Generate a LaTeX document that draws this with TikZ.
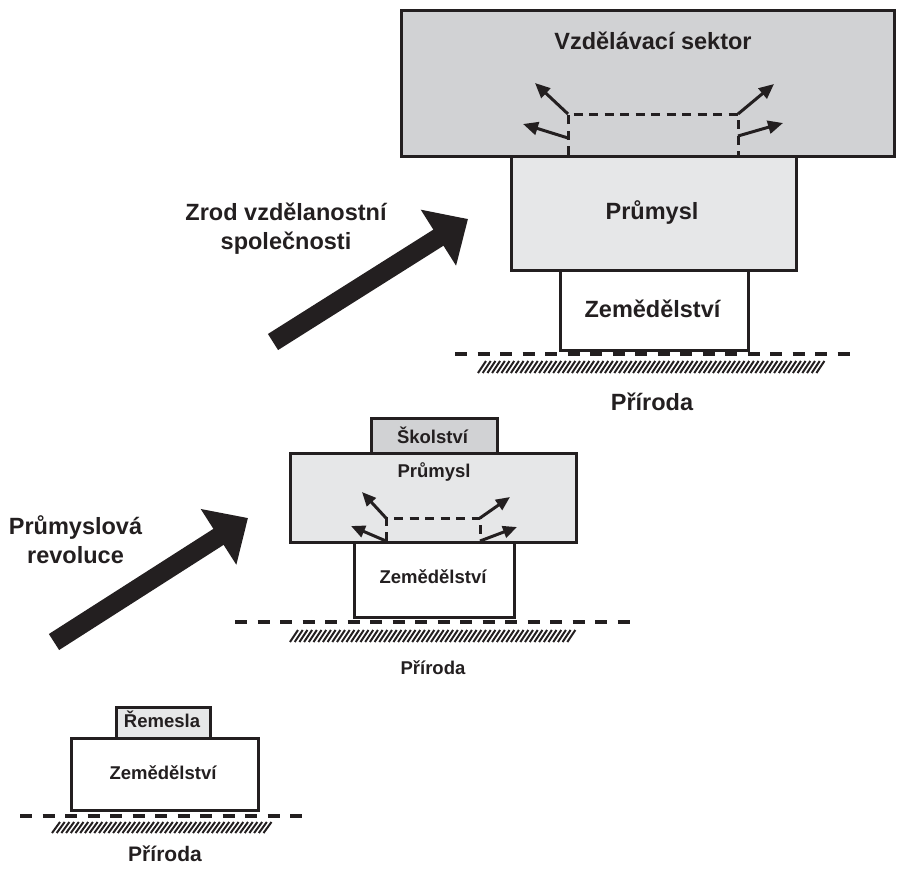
\documentclass[tikz,border=0pt]{standalone}
\usepackage{fontspec}
\setmainfont{Liberation Sans}
\usetikzlibrary{arrows.meta}
\definecolor{ink}{HTML}{231F20}
\definecolor{darkfill}{HTML}{D1D2D4}
\definecolor{lightfill}{HTML}{E6E7E8}
\tikzset{
  sector/.style={draw=ink, line width=3pt, inner sep=0pt, anchor=north west},
  bigtxt/.style={font=\bfseries\fontsize{23.5}{29}\selectfont, text=ink, inner sep=0pt, anchor=base},
  smalltxt/.style={font=\bfseries\fontsize{18.5}{22}\selectfont, text=ink, inner sep=0pt, anchor=base},
  ground/.style={draw=ink, line width=3.2pt, dash pattern=on 12pt off 10.5pt},
  hatchline/.style={draw=ink, line width=2pt},
  flow/.style={draw=ink, line width=3pt, -{Triangle[length=15pt,width=13pt]}},
  flowsmall/.style={draw=ink, line width=3pt, -{Triangle[length=14pt,width=12pt]}},
  innerdash/.style={draw=ink, line width=3pt, dash pattern=on 9pt off 6.5pt},
  bigarrow/.style={draw=ink, line width=19pt, -{Triangle[length=35pt,width=64pt]}},
}
\begin{document}
\begin{tikzpicture}[x=1pt,y=-1pt]
\useasboundingbox (0,0) rectangle (904,868);

% ---------- top stage ----------
\node[sector, fill=darkfill, minimum width=493pt, minimum height=146pt] (vzd) at (400,9) {};
\node[sector, fill=lightfill, minimum width=285pt, minimum height=114pt] (prum3) at (510,155) {};
\node[sector, fill=white, minimum width=188pt, minimum height=80pt] (zem3) at (559,269) {};
\node[bigtxt] (vzdt) at (653,49) {Vzdělávací sektor};
\node[bigtxt] (prum3t) at (652,219) {Průmysl};
\node[bigtxt] (zem3t) at (652.5,317) {Zemědělství};

\coordinate (c3a) at (568,114);
\coordinate (c3b) at (738,114);
\coordinate (c3c) at (568,155);
\coordinate (c3d) at (738,155);
\coordinate (c3e) at (568,138);
\coordinate (c3f) at (738,136);
\draw[innerdash] (c3c) -- (c3a) -- (c3b) -- (c3d);
\coordinate (f3a) at (535,83);
\coordinate (f3b) at (523,124);
\coordinate (f3c) at (774,84);
\coordinate (f3d) at (783,123);
\draw[flow] (c3a) -- (f3a);
\draw[flow] (c3e) -- (f3b);
\draw[flow] (c3b) -- (f3c);
\draw[flow] (c3f) -- (f3d);

\coordinate (g3a) at (455,354);
\coordinate (g3b) at (852,354);
\draw[ground] (g3a) -- (g3b);
\foreach \i in {0,...,72} \draw[hatchline] (478+\i*4.7,373) -- ++(8,-12);
\node[bigtxt] (pri3) at (652,410) {Příroda};

\coordinate (a1s) at (273,342);
\coordinate (a1e) at (468,219);
\draw[bigarrow] (a1s) -- (a1e);
\node[bigtxt, align=center, anchor=north] (zrod) at (286,203) {Zrod vzdělanostní\\společnosti};

% ---------- middle stage ----------
\node[sector, fill=darkfill, minimum width=126pt, minimum height=35pt] (skol) at (370,417) {};
\node[sector, fill=lightfill, minimum width=286pt, minimum height=89pt] (prum2) at (289,452) {};
\node[sector, fill=white, minimum width=160pt, minimum height=75pt] (zem2) at (353,541) {};
\node[smalltxt] (skolt) at (432.5,443) {Školství};
\node[smalltxt] (prum2t) at (434,477) {Průmysl};
\node[smalltxt] (zem2t) at (433,583) {Zemědělství};

\coordinate (c2a) at (386,518);
\coordinate (c2b) at (480,518);
\coordinate (c2c) at (386,541);
\coordinate (c2d) at (480,541);
\draw[innerdash] (c2c) -- (c2a) -- (c2b) -- (c2d);
\coordinate (f2a) at (362,492);
\coordinate (f2b) at (351,526);
\coordinate (f2c) at (510,497);
\coordinate (f2d) at (517,527);
\draw[flowsmall] (c2a) -- (f2a);
\draw[flowsmall] (c2c) -- (f2b);
\draw[flowsmall] (c2b) -- (f2c);
\draw[flowsmall] (c2d) -- (f2d);

\coordinate (g2a) at (235,622);
\coordinate (g2b) at (632,622);
\draw[ground] (g2a) -- (g2b);
\foreach \i in {0,...,59} \draw[hatchline] (290+\i*4.7,642) -- ++(8,-12);
\node[smalltxt] (pri2) at (433,674) {Příroda};

\coordinate (a2s) at (54,642);
\coordinate (a2e) at (248,518);
\draw[bigarrow] (a2s) -- (a2e);
\node[bigtxt, align=center, anchor=north] (prumrev) at (75.5,515) {Průmyslová\\revoluce};

% ---------- bottom stage ----------
\node[sector, fill=lightfill, minimum width=94pt, minimum height=31pt] (rem) at (115,706) {};
\node[sector, fill=white, minimum width=187pt, minimum height=72pt] (zem1) at (70,737) {};
\node[smalltxt] (remt) at (162,727) {Řemesla};
\node[smalltxt] (zem1t) at (163,779) {Zemědělství};

\coordinate (g1a) at (20,816);
\coordinate (g1b) at (305,816);
\draw[ground] (g1a) -- (g1b);
\foreach \i in {0,...,45} \draw[hatchline] (52+\i*4.7,833) -- ++(8,-11);
\node[bigtxt, font=\bfseries\fontsize{21}{25}\selectfont] (pri1) at (165,861) {Příroda};
\end{tikzpicture}
\end{document}
